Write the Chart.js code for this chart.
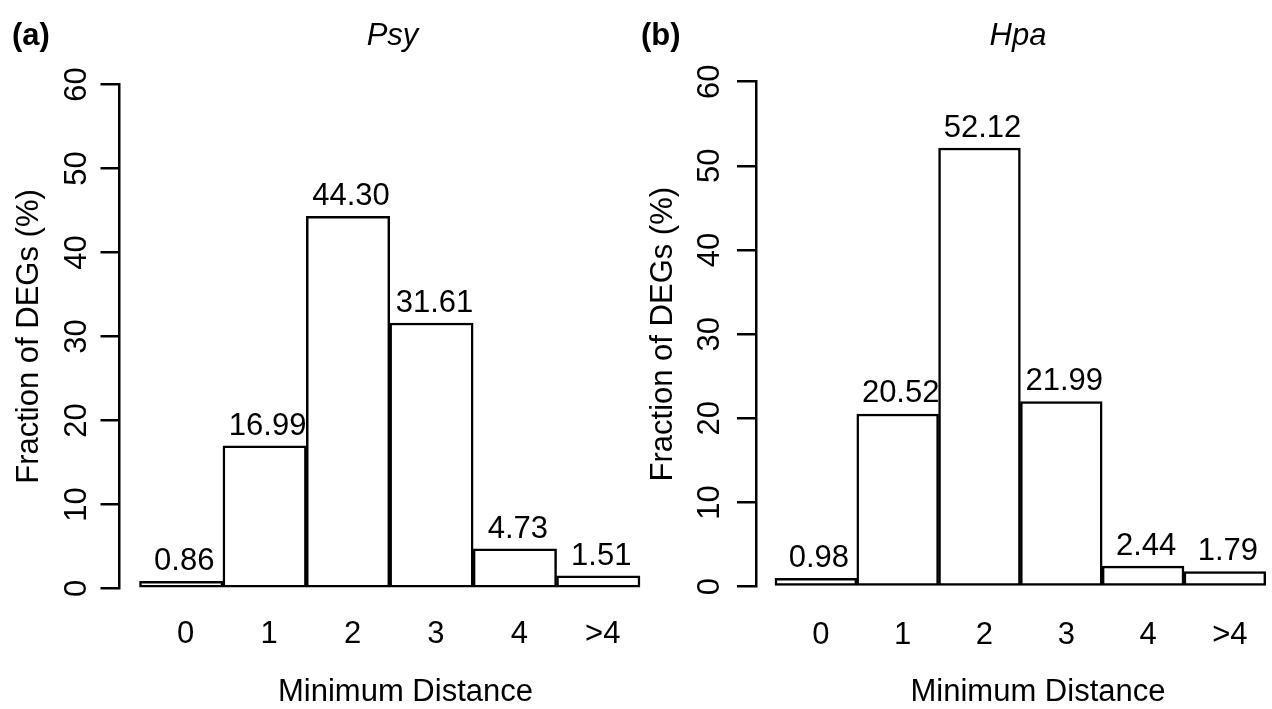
<!DOCTYPE html>
<html>
<head>
<meta charset="utf-8">
<script src="https://cdn.jsdelivr.net/npm/chart.js@4.4.1/dist/chart.umd.min.js"></script>
<style>
  html, body { margin: 0; padding: 0; background: #ffffff; }
  #wrap { position: relative; width: 1272px; height: 709px; overflow: hidden; background: #ffffff; }
  #wrap canvas { position: absolute; left: 0; top: 0; }
</style>
</head>
<body>
<div id="wrap">
  <canvas id="psy" width="1272" height="709"></canvas>
  <canvas id="hpa" width="1272" height="709"></canvas>
</div>
<script>
// Distance classes on the x axis
const categories = ['0', '1', '2', '3', '4', '>4'];
// Fraction of DEGs (%) per minimum distance
const psyValues = [0.86, 16.99, 44.30, 31.61, 4.73, 1.51];
const hpaValues = [0.98, 20.52, 52.12, 21.99, 2.44, 1.79];
// y axis tick values
const yTicks = [0, 10, 20, 30, 40, 50, 60];
// Panel texts
const panelTags = ['(a)', '(b)'];
const panelTitles = ['Psy', 'Hpa'];
const xAxisTitle = 'Minimum Distance';
const yAxisTitle = 'Fraction of DEGs (%)';

const FONT = '"Liberation Sans", Arial, Helvetica, sans-serif';
const TEXT_PX = 31;

// Per-panel layout (pixel geometry of each plot)
const layouts = [
  {
    id: 'psy', values: psyValues, tag: panelTags[0], title: panelTitles[0],
    padding: { left: 100.5, right: 612, top: 84.5, bottom: 120.5 },
    xMin: -0.74, xMax: 5.74,
    yTickLabelX: 86, yTitleX: 38.3,
    xLabelY: 643, xLabelShift: 4.5, valueShift: 3, valueGap: 11,
    xTitleX: 405.5, xTitleY: 701,
    tagX: 12, tagY: 45, titleX: 392.5, titleY: 45
  },
  {
    id: 'hpa', values: hpaValues, tag: panelTags[1], title: panelTitles[1],
    padding: { left: 737, right: 0, top: 81.7, bottom: 122.3 },
    xMin: -0.732, xMax: 5.576,
    yTickLabelX: 719, yTitleX: 671.7,
    xLabelY: 644, xLabelShift: 5, valueShift: 3, valueGap: 11.5,
    xTitleX: 1038, xTitleY: 701,
    tagX: 641, tagY: 45, titleX: 1018, titleY: 45
  }
];

// Text annotations: axis labels, bar values, titles
const annotate = {
  id: 'annotate',
  afterDraw(chart, args, opts) {
    const L = opts.layout;
    const ctx = chart.ctx;
    const xs = chart.scales.x;
    const ys = chart.scales.y;
    ctx.save();
    ctx.fillStyle = '#000';
    ctx.font = TEXT_PX + 'px ' + FONT;
    ctx.textBaseline = 'alphabetic';
    ctx.textAlign = 'center';

    // rotated y tick labels
    yTicks.forEach(v => {
      const py = ys.getPixelForValue(v);
      ctx.save();
      ctx.translate(L.yTickLabelX, py);
      ctx.rotate(-Math.PI / 2);
      ctx.fillText(String(v), 0, 0);
      ctx.restore();
    });

    // y axis title
    ctx.save();
    ctx.translate(L.yTitleX, (ys.top + ys.bottom) / 2);
    ctx.rotate(-Math.PI / 2);
    ctx.fillText(yAxisTitle, 0, 0);
    ctx.restore();

    // x category labels
    categories.forEach((c, i) => {
      ctx.fillText(c, xs.getPixelForValue(i) + L.xLabelShift, L.xLabelY);
    });

    // x axis title
    ctx.fillText(xAxisTitle, L.xTitleX, L.xTitleY);

    // values above the bars
    const meta = chart.getDatasetMeta(0);
    meta.data.forEach((bar, i) => {
      const v = chart.data.datasets[0].data[i].y;
      ctx.fillText(v.toFixed(2), bar.x + L.valueShift, bar.y - L.valueGap);
    });

    // panel title (italic) and tag (bold)
    ctx.font = 'italic ' + TEXT_PX + 'px ' + FONT;
    ctx.fillText(L.title, L.titleX, L.titleY);
    ctx.font = 'bold ' + TEXT_PX + 'px ' + FONT;
    ctx.textAlign = 'left';
    ctx.fillText(L.tag, L.tagX, L.tagY);
    ctx.restore();
  }
};

layouts.forEach(L => {
  new Chart(document.getElementById(L.id), {
    type: 'bar',
    data: {
      datasets: [{
        data: L.values.map((v, i) => ({ x: i, y: v })),
        backgroundColor: '#ffffff',
        borderColor: '#000000',
        borderWidth: 2.5,
        borderSkipped: false,
        barPercentage: 1,
        categoryPercentage: 1
      }]
    },
    options: {
      responsive: false,
      maintainAspectRatio: false,
      devicePixelRatio: 1,
      animation: false,
      events: [],
      layout: { padding: L.padding },
      plugins: {
        legend: { display: false },
        tooltip: { enabled: false },
        title: { display: false },
        annotate: { layout: L }
      },
      scales: {
        x: {
          type: 'linear',
          display: false,
          offset: false,
          min: L.xMin,
          max: L.xMax,
          afterBuildTicks: s => { s.ticks = categories.map((_, i) => ({ value: i })); }
        },
        y: {
          type: 'linear',
          min: 0,
          max: 60,
          afterBuildTicks: s => { s.ticks = yTicks.map(v => ({ value: v })); },
          afterFit: s => { s.width = 19; },
          ticks: { display: false },
          grid: {
            drawOnChartArea: false,
            drawTicks: true,
            tickLength: 19,
            lineWidth: 2.5,
            color: '#000000'
          },
          border: { display: true, width: 2.5, color: '#000000' }
        }
      }
    },
    plugins: [annotate]
  });
});
</script>
</body>
</html>
